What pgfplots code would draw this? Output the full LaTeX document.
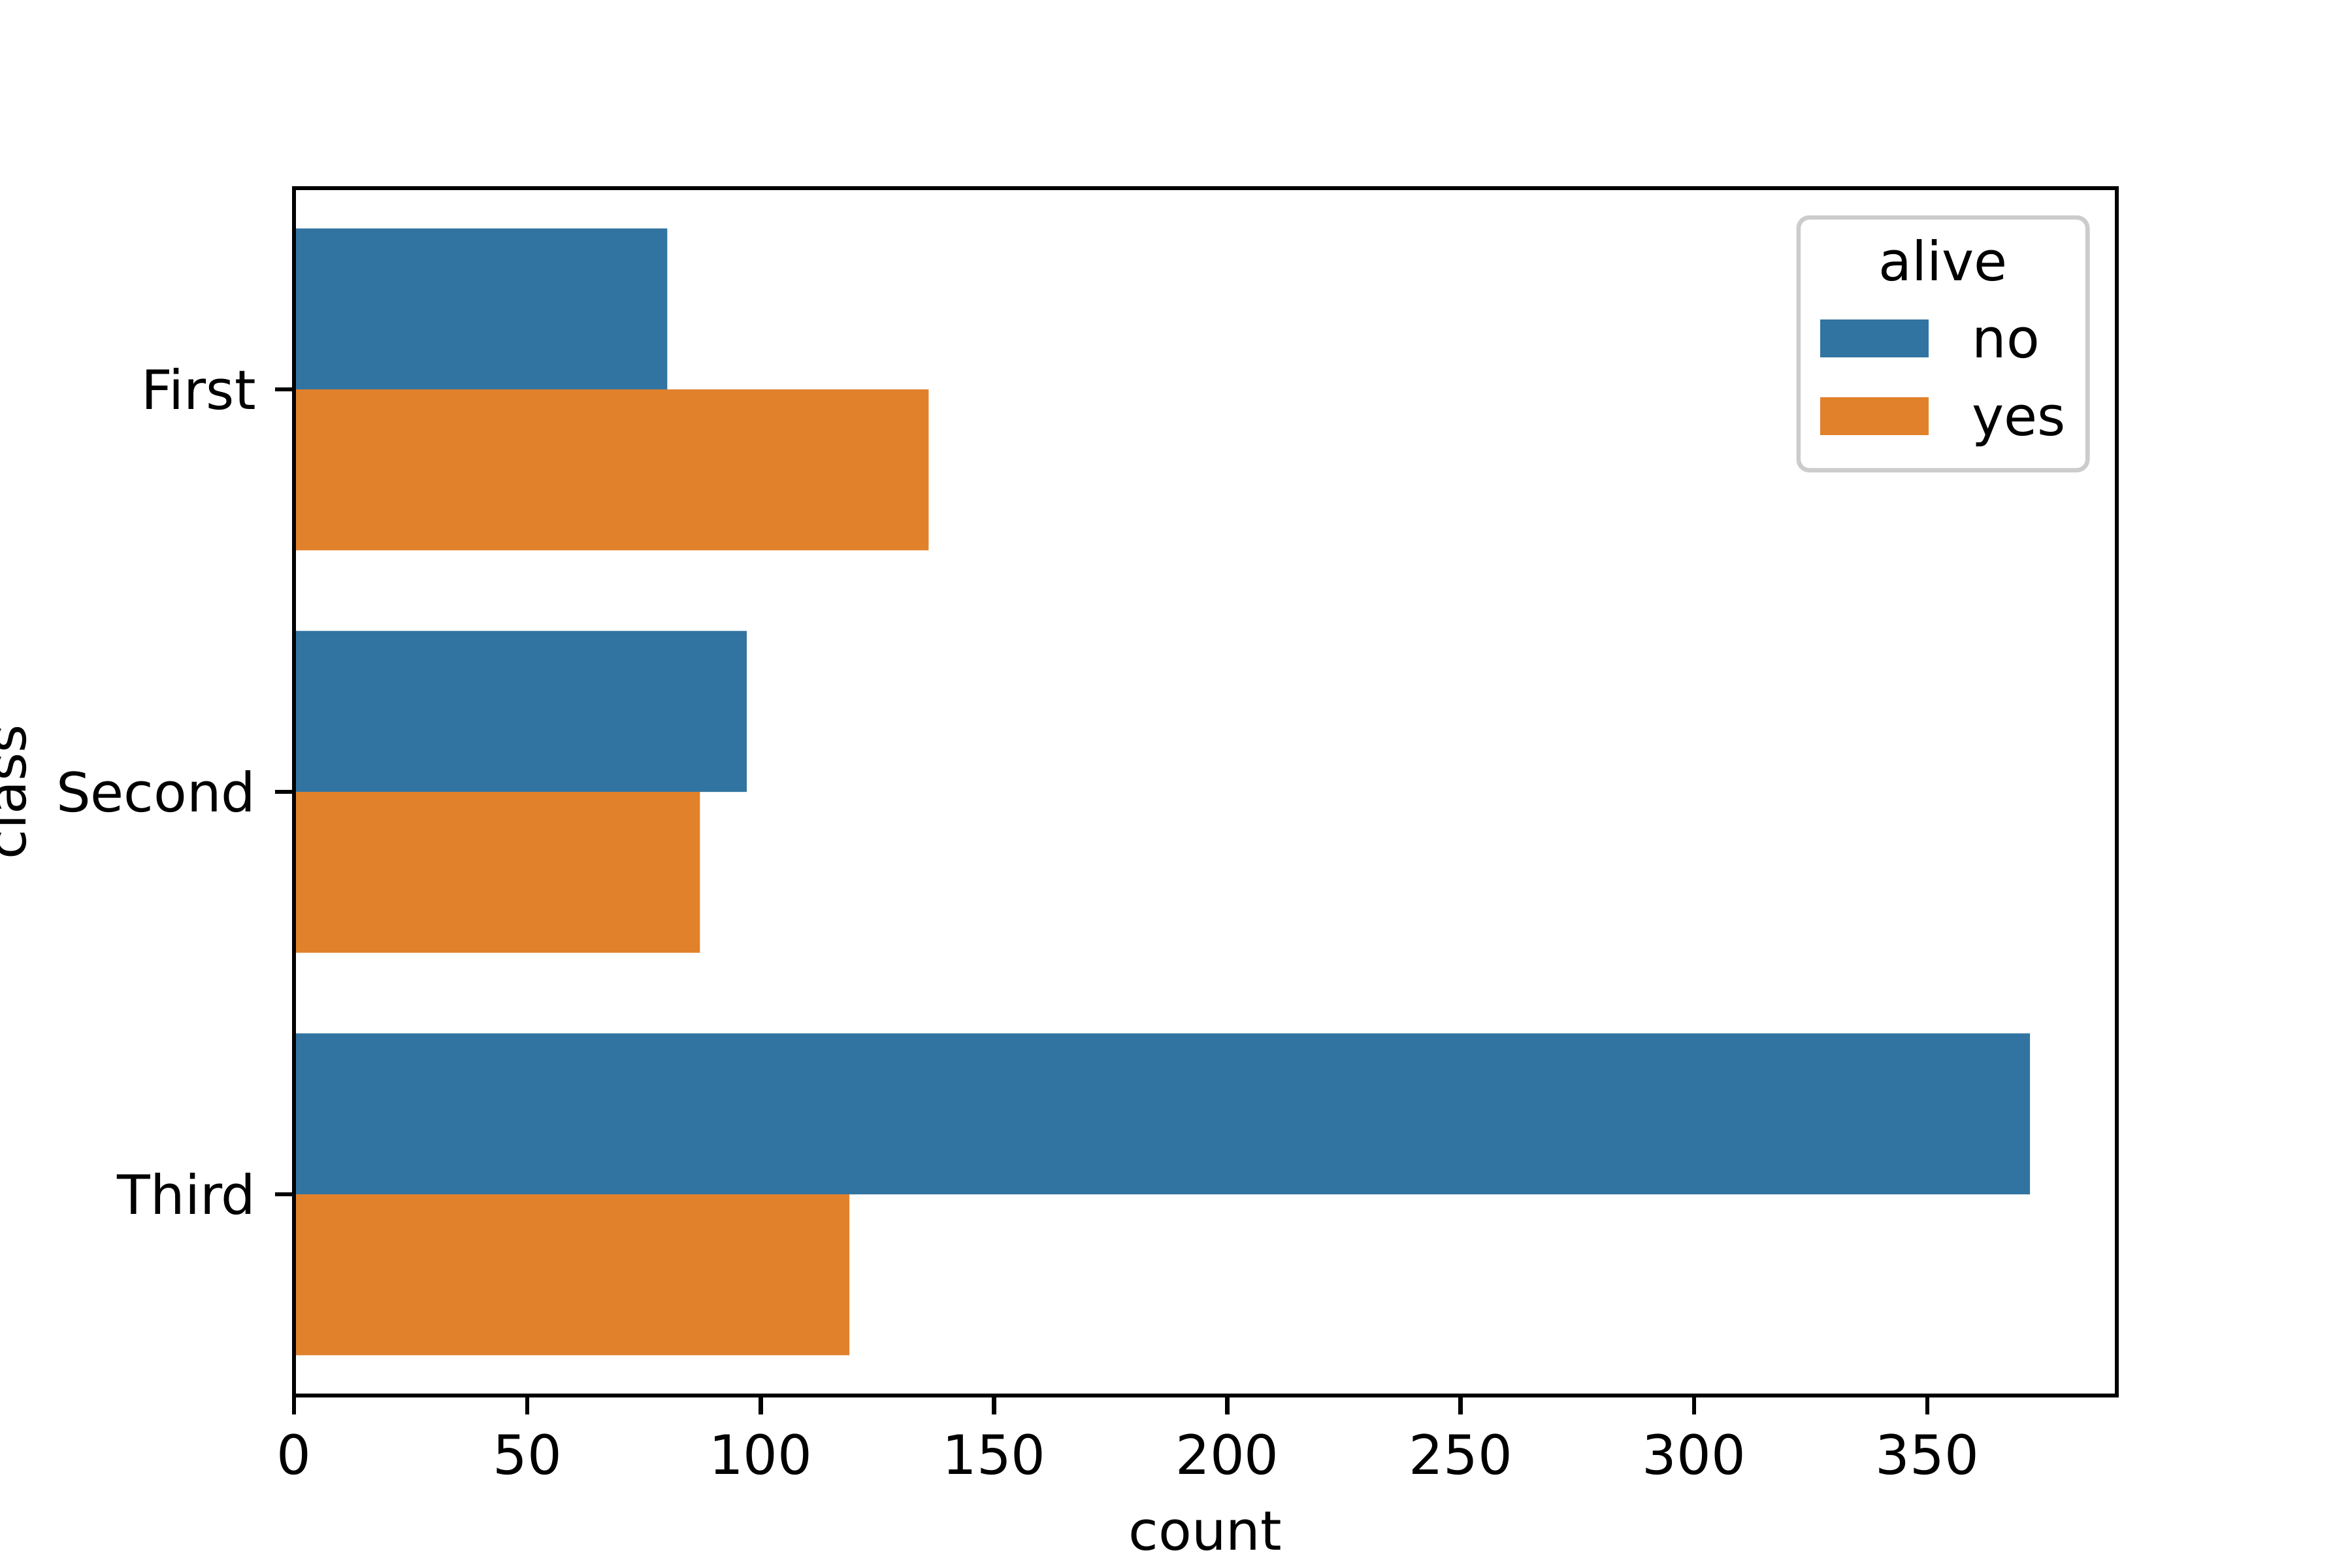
\documentclass[border=0pt]{standalone}
\usepackage{fontspec}
\setmainfont{DejaVu Sans}
\usepackage{calc}
\usepackage{pgfplots}
\pgfplotsset{compat=1.18}

\definecolor{sbblue}{HTML}{3274A1}
\definecolor{sborange}{HTML}{E1812C}
\definecolor{legframe}{HTML}{CCCCCC}

\begin{document}
\begin{tikzpicture}
% figure is 6in x 4in, axes at (0.125,0.11)-(0.9,0.88)
\useasboundingbox (-0.75in,-0.44in) rectangle (5.25in,3.56in);
\begin{axis}[
    at={(0,0)}, anchor=south west,
    scale only axis,
    width=4.65in, height=3.08in,
    xbar, bar width=0.4,
    xmin=0, xmax=390.6,
    ymin=-0.5, ymax=2.5,
    y dir=reverse,
    xtick={0,50,...,350},
    ytick={0,1,2},
    yticklabels={First,Second,Third},
    xtick pos=lower, ytick pos=left,
    tick align=outside,
    major tick length=3.5pt,
    tick style={black, line width=0.8pt},
    axis line style={line width=0.8pt},
    axis on top,
    /pgf/number format/assume math mode=true,
    xlabel={count},
    ylabel={class},
    ylabel style={at={(axis description cs:-0.147,0.5)}, anchor=base, inner sep=0pt},
    legend style={
        at={(1,1)}, anchor=north east, xshift=-5pt, yshift=-5pt,
        draw=legframe, line width=0.8pt, fill=white, fill opacity=0.8,
        text opacity=1, rounded corners=2pt, inner sep=4pt,
        row sep=4.3pt, column sep=8pt,
        nodes={inner sep=0pt, text height=7.6pt, text depth=2.4pt},
    },
    legend cell align=left,
    legend image code/.code={\fill[#1, sharp corners, fill opacity=1] (0pt,-2.5pt) rectangle (20pt,4.5pt);},
]
\addlegendimage{empty legend}
\addlegendentry{\makebox[\widthof{yes}][c]{\hspace*{-28pt}alive}}
\addplot[fill=sbblue, draw=none, bar shift=-0.2] coordinates {(80,0) (97,1) (372,2)};
\addlegendentry{no}
\addplot[fill=sborange, draw=none, bar shift=0.2] coordinates {(136,0) (87,1) (119,2)};
\addlegendentry{yes}
\end{axis}
\end{tikzpicture}
\end{document}
